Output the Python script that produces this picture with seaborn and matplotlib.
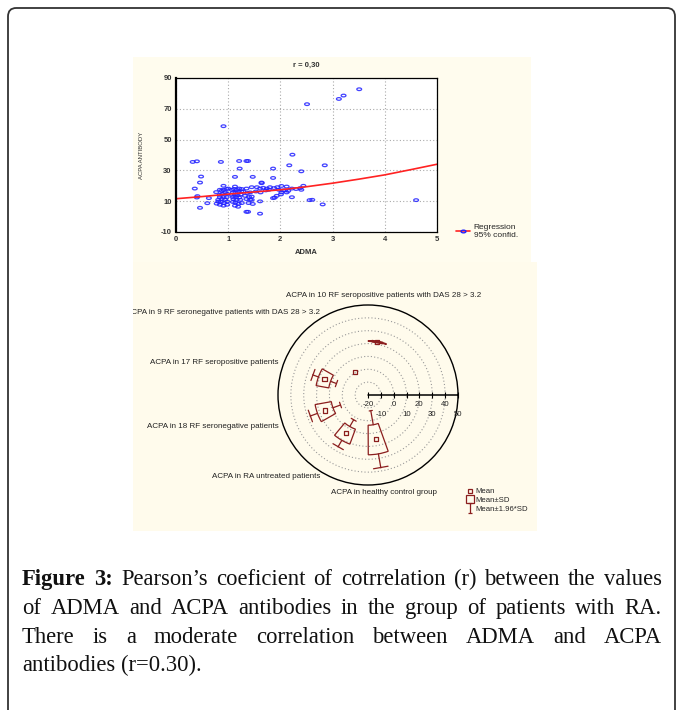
import numpy as np
import matplotlib
matplotlib.use('Agg')
import matplotlib.pyplot as plt
import matplotlib.transforms as mtrans
from matplotlib.path import Path
from matplotlib.lines import Line2D
from matplotlib.patches import FancyBboxPatch, Rectangle
import seaborn as sns

# ---------------------------------------------------------------
# Data
# ---------------------------------------------------------------
# scatter: ADMA vs ACPA antibody
adma = [3.51, 3.21, 3.12, 2.51, 0.91, 0.32, 0.40, 0.86, 1.21, 1.35, 1.38,
        2.23, 2.17, 2.85, 1.22, 1.86, 2.40, 0.48, 1.13, 1.47, 1.86,
        0.46, 1.64, 0.36, 2.22, 2.56, 2.61, 2.81, 4.60,
        0.46, 1.35, 1.38, 1.61, 0.60, 0.40, 0.63, 0.41, 0.77,
        0.91, 0.84, 0.875, 0.91, 0.97, 1.00, 0.94, 0.89, 0.84, 0.98, 0.84, 0.91,
        0.97, 0.875, 0.94, 0.81, 0.86, 0.92, 0.98, 0.84, 0.91, 0.98, 0.78, 0.81,
        1.13, 1.07, 1.11, 1.16, 1.21, 1.26, 1.09, 1.14, 1.19, 1.25, 1.07, 1.13,
        1.18, 1.24, 1.09, 1.15, 1.21, 1.10, 1.16, 1.23, 1.09, 1.14, 1.20, 1.26,
        1.13, 1.19,
        1.35, 1.45, 1.29, 1.37, 1.42, 1.32, 1.40, 1.35, 1.45, 1.39, 1.47,
        1.55, 1.61, 1.67, 1.74, 1.80, 1.88, 1.94, 2.02, 2.12, 2.22, 2.30, 2.44,
        1.53, 1.62, 1.72, 1.78, 1.97, 2.09, 2.15, 2.40, 2.38,
        1.64, 1.61, 1.45, 1.42, 1.86, 1.89, 1.93, 2.02, 2.05, 2.01, 2.12]
acpa = [82.7, 78.6, 76.4, 73.0, 58.7, 35.5, 35.9, 35.5, 36.1, 36.1, 36.1,
        40.2, 33.3, 33.3, 31.2, 31.2, 29.4, 26.0, 25.8, 25.8, 25.1,
        22.1, 22.1, 18.2, 12.6, 10.7, 10.9, 7.9, 10.7,
        5.7, 3.1, 3.1, 1.9, 8.7, 12.4, 12.0, 13.3, 15.9,
        20.0, 17.4, 16.8, 17.4, 17.9, 18.2, 15.7, 14.8, 14.2, 14.8, 12.7, 12.7,
        12.7, 11.4, 10.9, 10.9, 9.5, 8.8, 9.8, 7.7, 7.1, 7.7, 8.4, 9.7,
        19.5, 17.4, 17.9, 17.4, 18.2, 17.9, 15.7, 15.7, 16.1, 16.3, 14.2, 14.2,
        14.0, 14.4, 12.7, 12.7, 12.4, 11.4, 10.9, 10.9, 9.5, 9.2, 8.4, 8.8,
        7.1, 6.4,
        18.2, 19.1, 16.3, 15.3, 15.7, 13.5, 12.7, 11.4, 10.9, 8.8, 8.2,
        19.1, 18.2, 18.7, 18.2, 19.1, 18.5, 19.1, 19.9, 19.5, 18.2, 17.9, 20.0,
        16.3, 15.7, 17.0, 17.4, 17.4, 17.0, 16.7, 17.4, 18.5,
        21.7, 9.9, 13.0, 10.9, 12.0, 12.3, 13.5, 15.7, 17.0, 14.4, 15.7]

# regression curve
reg_x = [0, 0.5, 1, 1.5, 2, 2.5, 3, 3.5, 4, 4.5, 5]
reg_y = [11.6, 13.0, 14.6, 16.0, 17.4, 19.4, 21.7, 24.3, 27.1, 30.5, 34.0]

# polar box plot: ACPA by patient group
groups = ['ACPA in 10 RF seropositive patients with DAS 28 > 3.2',
          'ACPA in 9 RF seronegative patients with DAS 28 > 3.2',
          'ACPA in 17 RF seropositive patients',
          'ACPA in 18 RF seronegative patients',
          'ACPA in RA untreated patients',
          'ACPA in healthy control group']
group_mean = [22.0, 0.5, 16.0, 15.4, 14.5, 15.0]
group_sd = [0.3, 0.0, 5.0, 6.4, 6.2, 11.5]
r_ticks = [-20, -10, 0, 10, 20, 30, 40, 50]

caption = ['Figure 3: Pearson\u2019s coeficient of cotrrelation (r) between the values',
           'of ADMA and ACPA antibodies in the group of patients with RA.',
           'There is a moderate correlation between ADMA and ACPA',
           'antibodies (r=0.30).']

# ---------------------------------------------------------------
sns.set_style('white')
plt.rcParams['font.family'] = ['Liberation Sans', 'DejaVu Sans']
plt.rcParams['axes.unicode_minus'] = False

W, H = 683, 710
def fx(px):
    return px / W
def fy(py):
    return 1 - py / H
def box(l, t, r, b):
    return [fx(l), fy(b), (r - l) / W, (b - t) / H]

fig = plt.figure(figsize=(W / 100, H / 100), dpi=100)
fig.patch.set_facecolor('white')

# rounded outer frame
frame = FancyBboxPatch((fx(8), fy(730)), (675 - 8) / W, (730 - 8) / H,
                       boxstyle='round,pad=0,rounding_size=0.012',
                       transform=fig.transFigure, fill=False,
                       ec='#333333', lw=1.3)
fig.add_artist(frame)

# panel backgrounds
fig.add_artist(Rectangle((fx(133), fy(262)), (531 - 133) / W, (262 - 57) / H,
                         transform=fig.transFigure, fc='#fffcee', ec='none', zorder=0))
fig.add_artist(Rectangle((fx(133), fy(531)), (537 - 133) / W, (531 - 262) / H,
                         transform=fig.transFigure, fc='#fffbec', ec='none', zorder=0))

# ---------------- scatter panel ----------------
circ = Path.unit_circle()
ellipse = Path(circ.vertices * np.array([1.0, 0.55]), circ.codes)
blue = '#2222ff'
red = '#ff2222'

ax = fig.add_axes(box(176, 78, 437, 232))
ax.set_facecolor('white')
sns.scatterplot(x=adma, y=acpa, ax=ax, marker=ellipse, s=12,
                facecolor='none', edgecolor=blue, linewidth=0.9, alpha=0.85)
sns.lineplot(x=reg_x, y=reg_y, ax=ax, color=red, lw=1.2)
ax.set_xlim(0, 5)
ax.set_ylim(-10, 90)
ax.set_xticks(range(0, 6))
ax.set_yticks(range(-10, 91, 20))
ax.grid(True, ls=(0, (1, 2)), color='#aaaaaa', lw=0.8)
for s in ax.spines.values():
    s.set_color('black')
    s.set_linewidth(0.9)
ax.spines['left'].set_linewidth(1.6)
ax.tick_params(labelsize=5.5, colors='#333333', pad=3, length=0)
for lab in ax.get_xticklabels() + ax.get_yticklabels():
    lab.set_fontweight('bold')
ax.set_title('r = 0,30', fontsize=5.5, fontweight='bold', pad=8, color='#333333')
ax.set_xlabel('ADMA', fontsize=5.5, fontweight='bold', labelpad=4, color='#333333')
ax.set_ylabel('ACPA ANTIBODY', fontsize=4.3, labelpad=12, color='#333333')

reg_handle = Line2D([], [], color=red, lw=1.2, marker=ellipse, ms=3.5,
                    mfc='none', mec=blue, markevery=[1])
fig.legend(handles=[reg_handle], labels=['Regression\n95% confid.'],
           loc='upper left', bbox_to_anchor=(fx(452), fy(220)), frameon=False,
           fontsize=6, handlelength=1.6, handletextpad=0.5, borderpad=0)

# ---------------- polar box panel ----------------
dark_red = '#8b1e1e'
n = len(groups)
theta = np.deg2rad(80 + 40 * np.arange(n))
box_w = 0.34
cap_w = 0.1

pax = fig.add_axes(box(278, 305, 458, 485), projection='polar')
pax.set_facecolor('none')

for th, m, sd in zip(theta, group_mean, group_sd):
    if sd > 0:
        pax.bar(th, 2 * sd, bottom=m - sd, width=box_w, fill=False,
                edgecolor=dark_red, lw=0.9)
        for sign in (1, -1):
            pax.plot([th, th], [m + sign * sd, m + sign * 1.96 * sd],
                     color=dark_red, lw=0.9)
            v = m + sign * 1.96 * sd
            pax.plot([th - cap_w, th + cap_w], [v, v], color=dark_red, lw=0.9)
sns.scatterplot(x=theta, y=group_mean, ax=pax, marker='s', s=9,
                facecolor='none', edgecolor=dark_red, linewidth=0.9, zorder=5)

pax.set_ylim(r_ticks[0], r_ticks[-1])
pax.set_xticks([])
pax.set_yticks(r_ticks[1:-1])
pax.set_yticklabels([])
pax.set_xlabel('')
pax.set_ylabel('')
pax.yaxis.grid(True, ls=(0, (1, 2)), color='#999999', lw=0.8)
pax.xaxis.grid(False)
pax.spines['polar'].set_color('black')
pax.spines['polar'].set_linewidth(1.0)

# radial scale drawn along theta = 0
pax.plot([0, 0], [r_ticks[0], r_ticks[-1]], color='black', lw=1.1, clip_on=False)
pax.plot(np.zeros(len(r_ticks)), r_ticks, ls='none', marker='|', ms=4,
         color='black', mew=0.8, clip_on=False)
for i, r in enumerate(r_ticks):
    pax.annotate(str(r), (0, r), xytext=(0, -10 if i % 2 == 0 else -20),
                 textcoords='offset pixels', ha='center', va='center',
                 fontsize=5.6, color='#222222', annotation_clip=False)

# group labels outside the circle, clipped to the panel
clip_bb = mtrans.TransformedBbox(
    mtrans.Bbox.from_extents(fx(133), fy(531), fx(537), fy(262)), fig.transFigure)
label_layout = [('center', 'bottom', 0, 7), ('right', 'center', -3, 5),
                ('right', 'center', -5, 2), ('right', 'center', -5, -1),
                ('right', 'center', -3, -4), ('center', 'center', 0, -9)]
for th, g, (ha, va, dx, dy) in zip(theta, groups, label_layout):
    tr = mtrans.offset_copy(pax.transData, fig=fig, x=dx, y=dy, units='dots')
    t = fig.text(th, r_ticks[-1], g, transform=tr, ha=ha, va=va,
                 fontsize=5.8, color='#222222')
    t.set_clip_box(clip_bb)
    t.set_clip_on(True)

ibeam = Path([(-0.5, -1), (0.5, -1), (0, -1), (0, 1), (-0.5, 1), (0.5, 1)],
             [Path.MOVETO, Path.LINETO, Path.MOVETO, Path.LINETO,
              Path.MOVETO, Path.LINETO])
box_leg = [Line2D([], [], ls='none', marker='s', ms=2.5, mfc='none', mec=dark_red, mew=0.9),
           Line2D([], [], ls='none', marker='s', ms=5.5, mfc='none', mec=dark_red, mew=0.9),
           Line2D([], [], ls='none', marker=ibeam, ms=7, mfc='none', mec=dark_red, mew=0.9)]
fig.legend(handles=box_leg, labels=['Mean', 'Mean\u00b1SD', 'Mean\u00b11.96*SD'],
           loc='upper left', bbox_to_anchor=(fx(463), fy(484)), frameon=False,
           fontsize=5.6, handlelength=0.8, handletextpad=0.3, labelspacing=0.15,
           borderpad=0)

# ---------------- justified caption ----------------
renderer = fig.canvas.get_renderer()
cap_size = 16.3
x_left, x_right = 22, 662
baselines = [585, 614, 643, 671]
for i, (line, base) in enumerate(zip(caption, baselines)):
    words = line.split(' ')
    texts = []
    for j, w in enumerate(words):
        bold = (i == 0 and j < 2)
        texts.append(fig.text(0, fy(base), w, fontsize=cap_size,
                              family=['Liberation Serif', 'DejaVu Serif'],
                              fontweight='bold' if bold else 'normal',
                              va='baseline', ha='left', color='#111111'))
    widths = [t.get_window_extent(renderer).width for t in texts]
    if i < len(caption) - 1:
        gap = (x_right - x_left - sum(widths)) / (len(words) - 1)
    else:
        gap = 0.25 * cap_size * 100 / 72
    x = x_left
    for t, w in zip(texts, widths):
        t.set_x(fx(x))
        x += w + gap

fig.savefig('out.png', dpi=100)
